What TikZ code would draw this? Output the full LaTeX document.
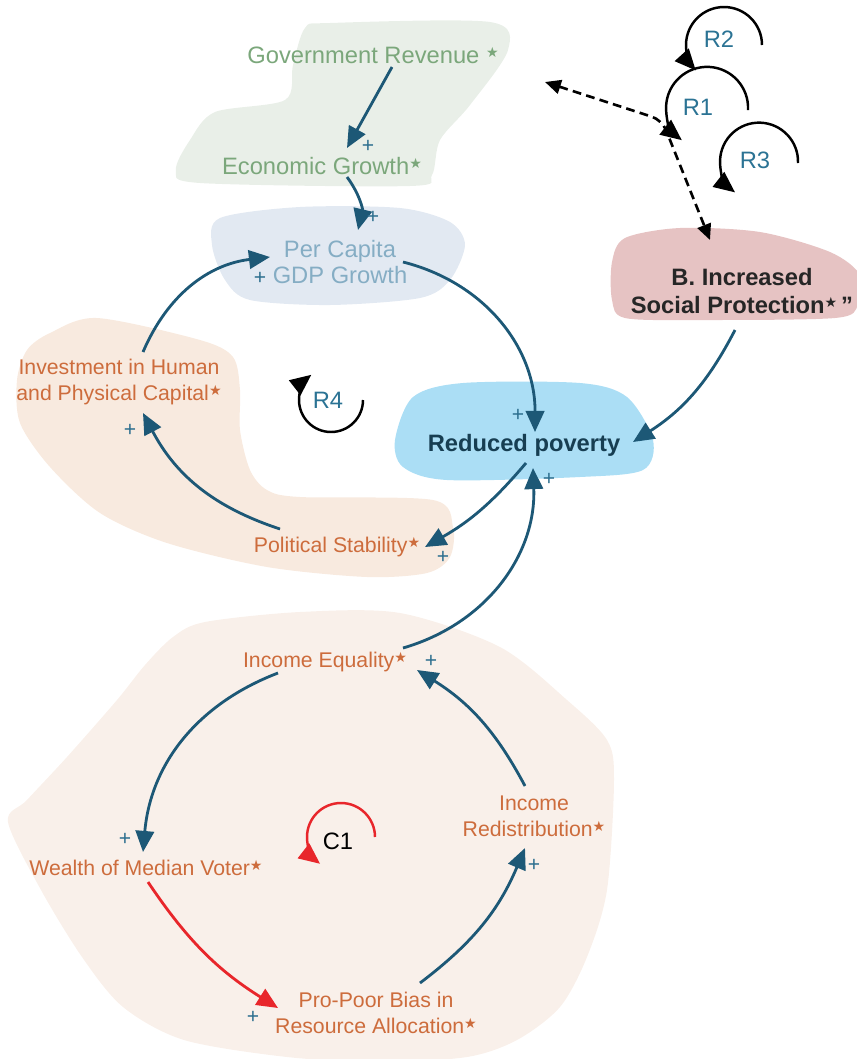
\documentclass[tikz,border=0pt]{standalone}
\usepackage{fontspec}
\setmainfont{Liberation Sans}
\newfontfamily\symfont{DejaVu Sans}
\usetikzlibrary{arrows.meta}

\definecolor{linkblue}{HTML}{1D5876}
\definecolor{plusblue}{HTML}{2D6F8F}
\definecolor{loopblue}{HTML}{2B7394}
\definecolor{txtgreen}{HTML}{7BA77B}
\definecolor{txtgray}{HTML}{85ADC4}
\definecolor{txtorange}{HTML}{CD6C3C}
\definecolor{txtnavy}{HTML}{173E52}
\definecolor{linkred}{HTML}{E8262B}
\definecolor{blobgreen}{HTML}{E9EFE8}
\definecolor{blobgray}{HTML}{E2E9F2}
\definecolor{bloborange}{HTML}{F8EADF}
\definecolor{blobsand}{HTML}{F9F0EA}
\definecolor{blobsky}{HTML}{ABDEF5}
\definecolor{blobpink}{HTML}{E6C3C3}

\newcommand{\vstar}{\raisebox{0.45ex}{\symfont\fontsize{8}{8}\selectfont ★}}

\begin{document}
\begin{tikzpicture}[x=0.02cm, y=-0.02cm, >={Triangle[length=12pt,width=10.5pt]},
        var/.style={font=\fontsize{13.5}{15}\selectfont, align=center, inner sep=0pt},
        ovar/.style={var, text=txtorange, font=\fontsize{12.1}{14.7}\selectfont},
        link/.style={->, line width=1.6pt, draw=linkblue},
        red link/.style={->, line width=1.6pt, draw=linkred},
        loop arr/.style={->, line width=1.4pt},
        loop name/.style={font=\fontsize{13.5}{15}\selectfont, text=loopblue, inner sep=0pt},
        plus/.style={font=\fontsize{12}{12}\selectfont, text=plusblue, inner sep=0pt}]
    \useasboundingbox (0,0) rectangle (856,1059);

    % background blobs
    \fill[blobsand] plot[smooth cycle] coordinates {(8,822) (27,800) (67,757) (117,700) (145,665) (173,637) (205,622) (300,612) (400,613) (500,647) (567,700) (607,740) (614,780) (607,890) (587,957) (560,1007) (517,1040) (467,1057) (380,1062) (287,1057) (184,1040) (123,1007) (82,957) (41,890)};
    \fill[blobgreen] plot[smooth cycle] coordinates {(305,28) (330,23) (490,22) (508,50) (470,105) (440,140) (432,175) (410,186) (200,183) (176,170) (190,140) (215,112) (285,100) (293,65)};
    \fill[blobgray] plot[smooth cycle] coordinates {(220,218) (300,207) (400,208) (450,222) (465,245) (450,280) (420,298) (330,305) (250,300) (225,280) (212,245)};
    \fill[bloborange] plot[smooth cycle] coordinates {(50,333) (97,318) (200,340) (233,357) (240,390) (240,430) (250,470) (267,490) (300,497) (433,500) (453,527) (450,557) (427,573) (367,577) (267,567) (167,543) (100,513) (50,467) (20,423) (17,380) (27,350)};
    \fill[blobsky] plot[smooth cycle] coordinates {(395,440) (413,397) (463,383) (580,383) (627,397) (653,440) (643,470) (580,477) (447,480) (403,467)};
    \fill[blobpink] plot[smooth cycle] coordinates {(612,262) (625,238) (680,228) (760,232) (830,252) (860,275) (858,305) (835,318) (700,320) (625,318) (612,300)};

    % variables
    \node[var, text=txtgreen] (gov) at (373,55) {Government Revenue\ \vstar};
    \node[var, text=txtgreen] (eco) at (322,166) {Economic Growth\vstar};
    \node[var, text=txtgray] (pcg) at (340,262) {Per Capita\\GDP Growth};
    \node[ovar] (inv) at (119,382) {Investment in Human\\and Physical Capital\vstar};
    \node[ovar] (pol) at (337,547) {Political Stability\vstar};
    \node[var, text=txtnavy, font=\fontsize{13.5}{15}\selectfont\bfseries] (rp) at (524,445) {Reduced poverty};
    \node[var, text=black!85, font=\fontsize{13.5}{15.5}\selectfont\bfseries] (bsp) at (742,291) {B. Increased\\Social Protection\vstar\,”};
    \node[ovar] (ie) at (325,662) {Income Equality\vstar};
    \node[ovar] (ir) at (534,816) {Income\\Redistribution\vstar};
    \node[ovar] (wmv) at (146,868) {Wealth of Median Voter\vstar};
    \node[ovar] (ppb) at (376,1013) {Pro-Poor Bias in\\Resource Allocation\vstar};

    % loop names
    \node[loop name] (r2) at (719,39) {R2};
    \node[loop name] (r1) at (698,107) {R1};
    \node[loop name] (r3) at (755,160) {R3};
    \node[loop name] (r4) at (328,400) {R4};
    \node[loop name, text=black] (c1) at (338,841) {C1};

    % links
    \draw[link] ([shift={(19,12)}]gov.center) -- ([shift={(25,-18)}]eco.center);
    \draw[link] ([shift={(25,11)}]eco.center) to[bend left=25] ([shift={(18,-32)}]pcg.center);
    \draw[link] ([shift={(24,-30)}]inv.center) to[bend left=30] ([shift={(-70,-5)}]pcg.center);
    \draw[link] ([shift={(63,0)}]pcg.center) to[bend left=38] ([shift={(11,-13)}]rp.center);
    \draw[link] ([shift={(-7,39)}]bsp.center) to[bend left=15] ([shift={(109,-3)}]rp.center);
    \draw[link] ([shift={(2,18)}]rp.center) to[bend left=10] ([shift={(88,0)}]pol.center);
    \draw[link] ([shift={(-57,-18)}]pol.center) to[bend left=22] ([shift={(24,31)}]inv.center);
    \draw[link] ([shift={(78,-14)}]ie.center) to[bend right=38] ([shift={(9,23)}]rp.center);
    \draw[link] ([shift={(-47,11)}]ie.center) to[bend right=32] ([shift={(-3,-16)}]wmv.center);
    \draw[red link] ([shift={(2,14)}]wmv.center) to[bend right=12] ([shift={(-98,-5)}]ppb.center);
    \draw[link] ([shift={(44,-30)}]ppb.center) to[bend right=15] ([shift={(-9,32)}]ir.center);
    \draw[link] ([shift={(-9,-30)}]ir.center) to[bend right=15] ([shift={(92,8)}]ie.center);

    % dashed link
    \coordinate (dash end) at (545,82);
    \draw[<->, >={Triangle[length=9pt,width=8pt]}, line width=1.5pt, dash pattern=on 5pt off 3pt, rounded corners=6pt]
        (dash end) -- (662,120) -- ([shift={(-32,-51)}]bsp.center);

    % loop arrows
    \draw[loop arr] (762,45) arc[start angle=0, end angle=222, radius=0.76cm];
    \draw[loop arr] (748,110) arc[start angle=-3, end angle=232, radius=0.82cm];
    \draw[loop arr] (798,163) arc[start angle=-2, end angle=232, radius=0.78cm];
    \draw[loop arr] (363,400) arc[start angle=0, end angle=-232, radius=0.64cm];
    \draw[loop arr, draw=linkred] (375,837) arc[start angle=0, end angle=232, radius=0.68cm];

    % polarities
    \node[plus] (p1) at (368,146) {+};
    \node[plus] (p2) at (373,217) {+};
    \node[plus] (p3) at (260,278) {+};
    \node[plus] (p4) at (518,415) {+};
    \node[plus] (p5) at (443,557) {+};
    \node[plus] (p6) at (130,430) {+};
    \node[plus] (p7) at (549,479) {+};
    \node[plus] (p8) at (125,839) {+};
    \node[plus] (p9) at (253,1017) {+};
    \node[plus] (p10) at (534,865) {+};
    \node[plus] (p11) at (431,661) {+};
\end{tikzpicture}
\end{document}
